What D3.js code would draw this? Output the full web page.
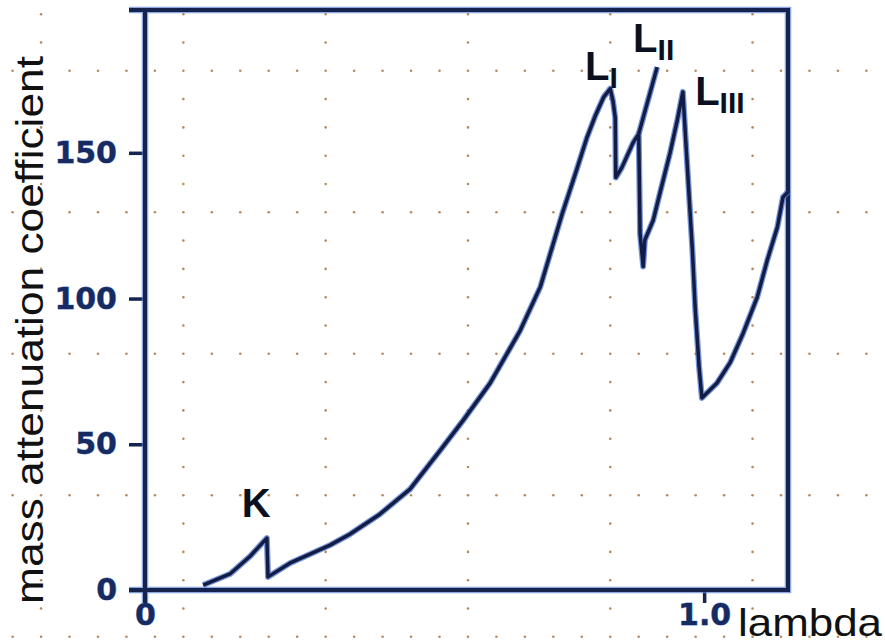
<!DOCTYPE html>
<meta charset="utf-8">
<head>
<title>Mass attenuation coefficient</title>
<style>
body { margin: 0; background: #fff; }
svg { display: block; }
.tick text { font-family: 'DejaVu Sans'; font-weight: bold; font-size: 30px; fill: #172b60;
             stroke: #6c8fd8; stroke-width: 0.8px; paint-order: stroke; }
.tick line { stroke: #15244f; stroke-width: 3.5px; }
.domain { display: none; }
.title { font-family: 'Liberation Sans'; font-size: 39px; fill: #111; }
.edge { font-family: 'Liberation Sans'; font-weight: bold; font-size: 40px; fill: #0b1020; }
</style>
</head>
<body>
<div id="chart"></div>
<script src="https://cdn.jsdelivr.net/npm/d3@7"></script>
<script>
// curve: lambda vs mass attenuation coefficient
var lambda = [0.104, 0.152, 0.188, 0.218, 0.220, 0.259, 0.331, 0.367, 0.420, 0.474,
              0.528, 0.569, 0.617, 0.671, 0.707, 0.746, 0.770, 0.790, 0.806, 0.820,
              0.832, 0.837, 0.841, 0.842, 0.853, 0.873, 0.883, 0.8855, 0.891, 0.894,
              0.909, 0.921, 0.939, 0.952, 0.962, 0.966, 0.979, 0.984,
              0.991, 0.996, 1.023, 1.047, 1.070, 1.095, 1.113, 1.131, 1.141, 1.150];
var mu = [1.7, 5.5, 11.6, 17.8, 4.5, 9.2, 15.4, 19.2, 26.0, 34.6,
          47.9, 58.2, 70.9, 89.0, 104.0, 129.0, 143.0, 155.0, 163.0, 169.0,
          172.0, 167.8, 162.0, 141.5, 145.0, 153.5, 156.5, 122.0, 111.0, 120.1,
          126.9, 136.2, 149.9, 161.2, 170.9, 157.8, 116.6, 96.8,
          76.5, 65.9, 71.0, 78.2, 88.2, 100.5, 113.2, 124.5, 134.8, 136.6];
// short stroke running up past the L_II edge
var spurLambda = [0.883, 0.916];
var spurMu = [156.5, 179.4];

var yTicks = [0, 50, 100, 150];
var xTicks = [0, 1.0];
var xTickLabels = ["0", "1.0"];

// edge labels: [main, subscript, lambda, mu]
var edgeLabels = [["K", "", 0.173, 25], ["L", "I", 0.787, 175], ["L", "II", 0.873, 184.5], ["L", "III", 0.984, 166.5]];

var width = 885, height = 643;
var svg = d3.select("#chart").append("svg").attr("width", width).attr("height", height);

var x = d3.scaleLinear().domain([0, 1.15]).range([145, 788]);
var y = d3.scaleLinear().domain([0, 199]).range([590, 10]);

// dotted paper grid behind everything
var dots = [];
for (var i = 0; i <= 30; i++) {
    for (var j = 0; j <= 22; j++) {
        if (i % 5 == 1 || j % 5 == 2) dots.push([12.6 + 28.46 * i, 14.2 + 28.3 * j]);
    }
}
svg.append("g").selectAll("circle").data(dots).enter().append("circle")
    .attr("cx", function(d) { return d[0]; })
    .attr("cy", function(d) { return d[1]; })
    .attr("r", 1.3)
    .attr("fill", "#b38b5e");

// axes
svg.append("g").attr("transform", "translate(" + x(0) + ",0)")
    .call(d3.axisLeft(y).tickValues(yTicks).tickSize(16).tickSizeOuter(0).tickPadding(12));
svg.append("g").attr("transform", "translate(0," + y(0) + ")")
    .call(d3.axisBottom(x).tickValues(xTicks).tickSize(13).tickSizeOuter(0).tickPadding(1)
        .tickFormat(function(d, k) { return xTickLabels[k]; }));

// frame
var left = x(0) - 16;
var framePath = "M" + left + "," + y(199) + "H" + x(1.15) + "V" + y(0) + "H" + left +
    "M" + x(0) + "," + y(199) + "V" + (y(0) + 13);
svg.append("path").attr("d", framePath).attr("fill", "none")
    .attr("stroke", "#5a80d4").attr("stroke-width", 6.5).attr("opacity", 0.7);
svg.append("path").attr("d", framePath).attr("fill", "none")
    .attr("stroke", "#15244f").attr("stroke-width", 4);

// curve
var line = d3.line().x(function(d) { return x(d[0]); }).y(function(d) { return y(d[1]); });
var mainPts = d3.zip(lambda, mu);
var spurPts = d3.zip(spurLambda, spurMu);
[mainPts, spurPts].forEach(function(pts) {
    svg.append("path").datum(pts).attr("d", line).attr("fill", "none")
        .attr("stroke", "#4a74cc").attr("stroke-width", 6).attr("opacity", 0.75)
        .attr("stroke-linejoin", "round");
    svg.append("path").datum(pts).attr("d", line).attr("fill", "none")
        .attr("stroke", "#121c44").attr("stroke-width", 3.5)
        .attr("stroke-linejoin", "round");
});

// edge labels
edgeLabels.forEach(function(e) {
    var t = svg.append("text").attr("class", "edge")
        .attr("x", x(e[2])).attr("y", y(e[3])).text(e[0]);
    if (e[1]) t.append("tspan").attr("dy", 8).attr("font-size", 30).text(e[1]);
});

// axis titles
svg.append("text").attr("class", "title")
    .attr("transform", "rotate(-90)")
    .attr("x", -330).attr("y", 43)
    .attr("text-anchor", "middle")
    .attr("textLength", 548).attr("lengthAdjust", "spacingAndGlyphs")
    .text("mass attenuation coefficient");
svg.append("text").attr("class", "title")
    .attr("x", 738).attr("y", 636)
    .attr("textLength", 144).attr("lengthAdjust", "spacingAndGlyphs")
    .text("lambda");
</script>
</body>
